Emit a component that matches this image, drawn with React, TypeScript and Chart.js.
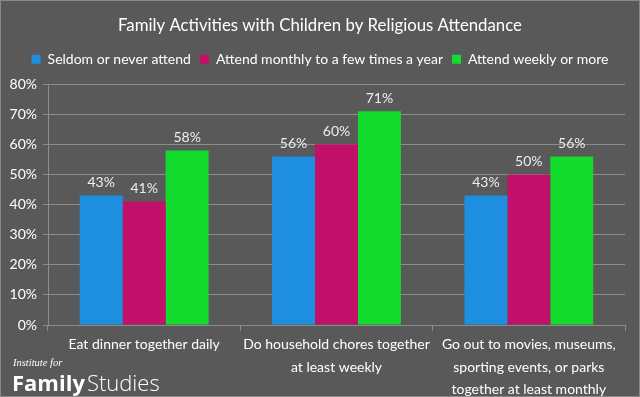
import React, { useEffect, useRef } from "react";
import { Chart, registerables } from "chart.js";

Chart.register(...registerables);

const categories: string[][] = [
  ["Eat dinner together daily"],
  ["Do household chores together", "at least weekly"],
  ["Go out to movies, museums,", "sporting events, or parks", "together at least monthly"],
];
const seldom = [43, 56, 43];
const monthly = [41, 60, 50];
const weekly = [58, 71, 56];
const seriesNames = ["Seldom or never attend", "Attend monthly to a few times a year", "Attend weekly or more"];
const seriesColors = ["#1e8ee0", "#c0106a", "#14dc2e"];
const titleText = "Family Activities with Children by Religious Attendance";

const FONT = "Lato, 'Open Sans', sans-serif";

const bgPlugin = {
  id: "bg",
  beforeDraw(chart: any) {
    const { ctx, width, height } = chart;
    ctx.save();
    ctx.fillStyle = "#595959";
    ctx.fillRect(0, 0, width, height);
    ctx.restore();
  },
};

const legendPadPlugin = {
  id: "legendPad",
  beforeLayout(chart: any) {
    const lg = chart.legend;
    if (lg && !lg.__padded) {
      const fit = lg.fit;
      lg.fit = function (this: any) {
        fit.call(this);
        this.height += 8;
      };
      lg.__padded = true;
    }
  },
};

const labelPlugin = {
  id: "valueLabels",
  afterDatasetsDraw(chart: any) {
    const { ctx } = chart;
    ctx.save();
    ctx.font = `14px ${FONT}`;
    ctx.fillStyle = "#eeeeee";
    ctx.textAlign = "center";
    ctx.textBaseline = "bottom";
    chart.data.datasets.forEach((ds: any, i: number) => {
      const meta = chart.getDatasetMeta(i);
      meta.data.forEach((bar: any, j: number) => {
        ctx.fillText(ds.data[j] + "%", bar.x, bar.y - 6);
      });
    });
    ctx.restore();
  },
};

export default function App() {
  const ref = useRef<HTMLCanvasElement>(null);
  useEffect(() => {
    if (!ref.current) return;
    const data = [seldom, monthly, weekly];
    const chart = new Chart(ref.current, {
      type: "bar",
      data: {
        labels: categories,
        datasets: data.map((d, i) => ({
          label: seriesNames[i],
          data: d,
          backgroundColor: seriesColors[i],
          borderWidth: 0,
          barPercentage: 1,
          categoryPercentage: 0.67,
        })),
      },
      options: {
        animation: false,
        responsive: false,
        maintainAspectRatio: false,
        layout: { padding: 0 },
        plugins: {
          title: {
            display: true,
            text: titleText,
            color: "#ffffff",
            font: { family: FONT, size: 16.8, weight: "normal" },
            padding: { top: 16, bottom: 7 },
          },
          legend: {
            display: true,
            labels: {
              color: "#ffffff",
              font: { family: FONT, size: 14 },
              boxWidth: 9,
              boxHeight: 9,
              padding: 9,
            },
          },
          tooltip: { enabled: false },
        },
        scales: {
          x: {
            grid: {
              offset: true,
              drawOnChartArea: false,
              drawTicks: true,
              tickLength: 6,
              color: "#8c8c8c",
            },
            border: { color: "#8c8c8c" },
            ticks: {
              color: "#ffffff",
              font: { family: FONT, size: 14, lineHeight: 1.62 },
              maxRotation: 0,
              autoSkip: false,
              padding: 2,
            },
            afterFit(scale: any) {
              scale.height = 72;
            },
          },
          y: {
            min: 0,
            max: 80,
            ticks: {
              stepSize: 10,
              color: "#ffffff",
              font: { family: FONT, size: 14 },
              callback: (v: any) => v + "%",
              padding: 6,
            },
            grid: { color: "#8c8c8c", tickLength: 5 },
            border: { color: "#8c8c8c" },
            afterFit(scale: any) {
              scale.width = 48;
            },
          },
          yRight: {
            position: "right",
            display: true,
            min: 0,
            max: 80,
            grid: { display: false, drawTicks: false },
            ticks: { display: false },
            border: { display: false },
            afterFit(scale: any) {
              scale.width = 15;
            },
          },
        },
      },
      plugins: [bgPlugin, legendPadPlugin, labelPlugin],
    });
    return () => chart.destroy();
  }, []);

  return (
    <div
      style={{
        position: "fixed",
        left: 0,
        top: 0,
        width: 640,
        height: 397,
        background: "#595959",
        overflow: "hidden",
      }}
    >
      <canvas ref={ref} width={640} height={397} style={{ display: "block" }} />
      <div
        style={{
          position: "absolute",
          inset: 0,
          border: "1px solid #8a8a8a",
          boxSizing: "border-box",
          pointerEvents: "none",
        }}
      />
      <div
        style={{
          position: "absolute",
          left: 13,
          top: 357,
          color: "#ffffff",
          fontFamily: "'Liberation Serif', 'DejaVu Serif', serif",
          fontStyle: "italic",
          fontSize: 10.5,
          lineHeight: "12px",
        }}
      >
        Institute for
      </div>
      <div
        style={{
          position: "absolute",
          left: 12,
          top: 369,
          color: "#ffffff",
          fontFamily: "'Open Sans', Lato, sans-serif",
          fontSize: 22,
          lineHeight: "26px",
          whiteSpace: "nowrap",
        }}
      >
        <span style={{ fontWeight: 700 }}>Family</span>
        <span style={{ fontWeight: 300, marginLeft: 2 }}>Studies</span>
      </div>
    </div>
  );
}
